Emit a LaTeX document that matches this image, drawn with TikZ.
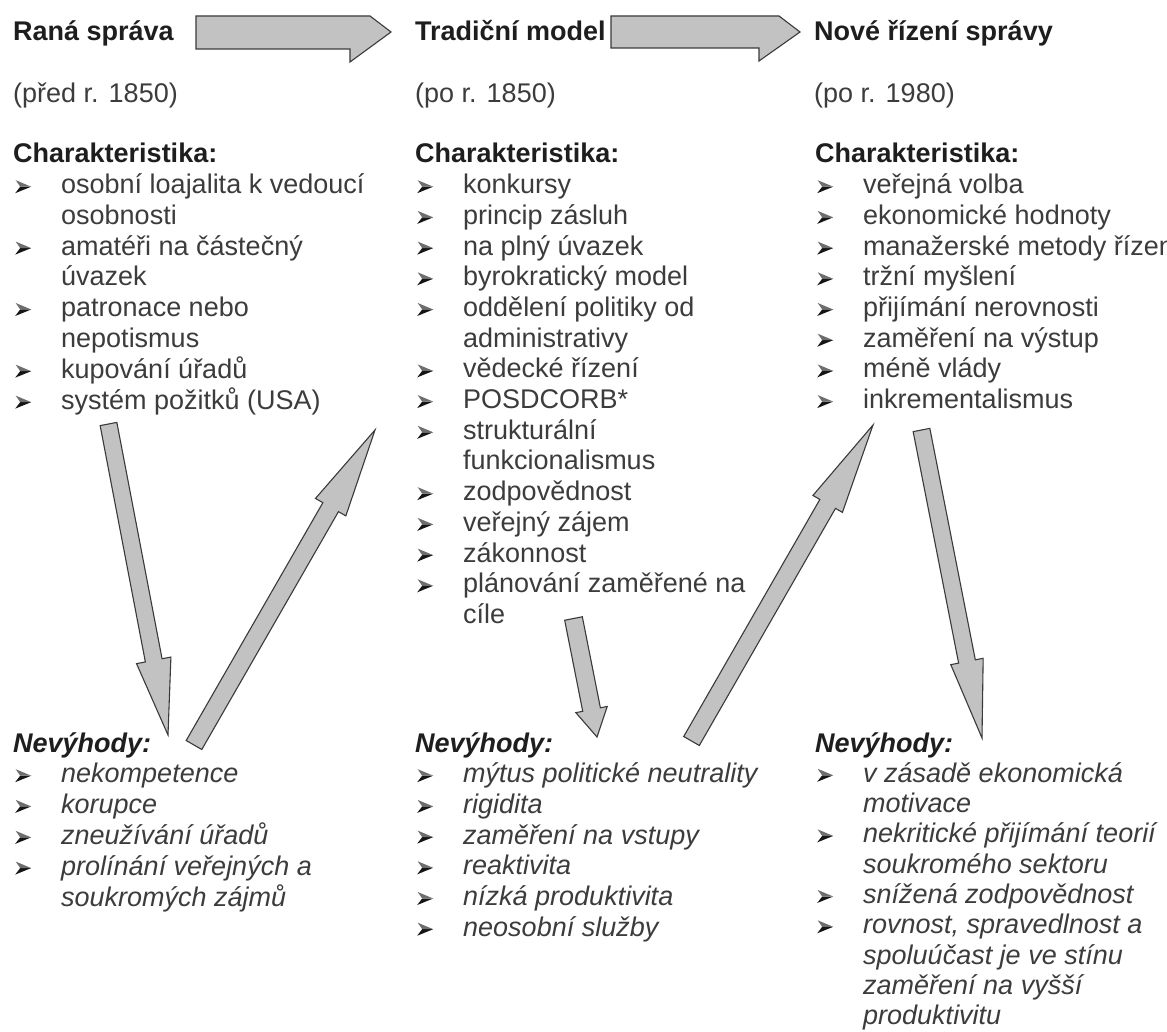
\documentclass[tikz,border=0pt]{standalone}
\usepackage{fontspec}
\setmainfont{Liberation Sans}
\usetikzlibrary{calc}

\definecolor{textgray}{HTML}{3C3C3C}
\definecolor{headgray}{HTML}{1E1E1E}
\definecolor{arrowfill}{HTML}{C2C2C2}
\definecolor{arrowline}{HTML}{3A3A3A}
\definecolor{bulletdark}{HTML}{151515}
\definecolor{bulletlight}{HTML}{6E6E6E}

\newcommand{\listfont}{\fontsize{27}{30.7}\selectfont}
% three-dimensional arrowhead bullet
\newcommand{\bul}{\tikz[baseline=0pt,x=1pt,y=1pt]{%
  \fill[bulletdark] (0,0.5) -- (16,7) -- (5,7) -- cycle;
  \fill[bulletlight] (0.5,13.5) -- (16,7) -- (5,7) -- cycle;}}
\newcommand{\B}{\makebox[48pt][l]{\hspace*{2pt}\bul}&}

% block arrow from #1 (tail) to #2 (tip): shaft half-width #3, head half-width #4, head length #5
\newcommand{\blockarrow}[5]{%
  \draw[arrowbody]
    ($(#1)!#3!90:(#2)$) --
    ($(#2)!#5!(#1)!#3!-90:(#1)$) --
    ($(#2)!#5!(#1)!#4!-90:(#1)$) --
    (#2) --
    ($(#2)!#5!(#1)!#4!90:(#1)$) --
    ($(#2)!#5!(#1)!#3!90:(#1)$) --
    ($(#1)!#3!-90:(#2)$) -- cycle;}

\tikzset{
  block/.style={inner sep=0pt, anchor=base west, font=\listfont, text=textgray},
  title/.style={inner sep=0pt, anchor=base west, font=\listfont\bfseries, text=headgray},
  period/.style={inner sep=0pt, anchor=base west, font=\listfont, text=textgray},
  arrowbody/.style={fill=arrowfill, draw=arrowline, line width=1.1pt, line join=miter},
}

\begin{document}
\begin{tikzpicture}[x=1pt,y=-1pt]
\useasboundingbox (0,0) rectangle (1167,1032);
\fill[white] (0,0) rectangle (1167,1032);

% stage titles
\node[title] (t1) at (13,41) {Raná správa};
\node[title] (t2) at (415,41) {Tradiční model};
\node[title] (t3) at (814,41) {Nové řízení správy};

\node[period] (p1) at (13,103) {(před r. 1850)};
\node[period] (p2) at (415,103) {(po r. 1850)};
\node[period] (p3) at (814,103) {(po r. 1980)};

% characteristics
\node[block] (c1) at (13,163) {\begin{tabular}[t]{@{}l@{}l@{}}
\multicolumn{2}{@{}l@{}}{\color{headgray}\bfseries Charakteristika:}\\
\B osobní loajalita k vedoucí\\
& osobnosti\\
\B amatéři na částečný\\
& úvazek\\
\B patronace nebo\\
& nepotismus\\
\B kupování úřadů\\
\B systém požitků (USA)
\end{tabular}};

\node[block] (c2) at (415,163) {\begin{tabular}[t]{@{}l@{}l@{}}
\multicolumn{2}{@{}l@{}}{\color{headgray}\bfseries Charakteristika:}\\
\B konkursy\\
\B princip zásluh\\
\B na plný úvazek\\
\B byrokratický model\\
\B oddělení politiky od\\
& administrativy\\
\B vědecké řízení\\
\B POSDCORB*\\
\B strukturální\\
& funkcionalismus\\
\B zodpovědnost\\
\B veřejný zájem\\
\B zákonnost\\
\B plánování zaměřené na\\
& cíle
\end{tabular}};

\node[block] (c3) at (815,163) {\begin{tabular}[t]{@{}l@{}l@{}}
\multicolumn{2}{@{}l@{}}{\color{headgray}\bfseries Charakteristika:}\\
\B veřejná volba\\
\B ekonomické hodnoty\\
\B manažerské metody řízení\\
\B tržní myšlení\\
\B přijímání nerovnosti\\
\B zaměření na výstup\\
\B méně vlády\\
\B inkrementalismus
\end{tabular}};

% drawbacks
\node[block] (d1) at (13,752) {\begin{tabular}[t]{@{}l@{}l@{}}
\multicolumn{2}{@{}l@{}}{\color{headgray}\bfseries\itshape Nevýhody:}\\
\B \itshape nekompetence\\
\B \itshape korupce\\
\B \itshape zneužívání úřadů\\
\B \itshape prolínání veřejných a\\
& \itshape soukromých zájmů
\end{tabular}};

\node[block] (d2) at (415,752) {\begin{tabular}[t]{@{}l@{}l@{}}
\multicolumn{2}{@{}l@{}}{\color{headgray}\bfseries\itshape Nevýhody:}\\
\B \itshape mýtus politické neutrality\\
\B \itshape rigidita\\
\B \itshape zaměření na vstupy\\
\B \itshape reaktivita\\
\B \itshape nízká produktivita\\
\B \itshape neosobní služby
\end{tabular}};

\node[block, font=\fontsize{27}{30.3}\selectfont] (d3) at (815,752) {\begin{tabular}[t]{@{}l@{}l@{}}
\multicolumn{2}{@{}l@{}}{\color{headgray}\bfseries\itshape Nevýhody:}\\
\B \itshape v zásadě ekonomická\\
& \itshape motivace\\
\B \itshape nekritické přijímání teorií\\
& \itshape soukromého sektoru\\
\B \itshape snížená zodpovědnost\\
\B \itshape rovnost, spravedlnost a\\
& \itshape spoluúčast je ve stínu\\
& \itshape zaměření na vyšší\\
& \itshape produktivitu
\end{tabular}};

% horizontal arrows between the stage titles (upper edge cut level with the shaft)
\coordinate (h1s) at (196,32);
\coordinate (h1e) at (391,32);
\coordinate (h2s) at (611,32);
\coordinate (h2e) at (800,32);
\draw[arrowbody] ($(h1s)+(0,-16)$) -- ($(h1e)+(-21,-16)$) -- (h1e) --
  ($(h1e)+(-41,30)$) -- ($(h1e)+(-41,17)$) -- ($(h1s)+(0,17)$) -- cycle;
\draw[arrowbody] ($(h2s)+(0,-16)$) -- ($(h2e)+(-21,-16)$) -- (h2e) --
  ($(h2e)+(-41,29)$) -- ($(h2e)+(-41,16)$) -- ($(h2s)+(0,16)$) -- cycle;

% diagonal arrows between characteristics and drawbacks
\coordinate (a1s) at (108.5,424);  \coordinate (a1e) at (168,735);
\coordinate (a2s) at (194,745);    \coordinate (a2e) at (375,430);
\coordinate (a3s) at (573.5,618.5);\coordinate (a3e) at (597,737);
\coordinate (a4s) at (691.5,741);  \coordinate (a4e) at (873,425);
\coordinate (a5s) at (921.5,430);  \coordinate (a5e) at (982,738);

\blockarrow{a1s}{a1e}{8.5pt}{17.5pt}{76pt}
\blockarrow{a2s}{a2e}{9pt}{17.5pt}{89pt}
\blockarrow{a3s}{a3e}{9pt}{16pt}{28pt}
\blockarrow{a4s}{a4e}{9pt}{17pt}{91pt}
\blockarrow{a5s}{a5e}{8.5pt}{16.5pt}{78pt}
\end{tikzpicture}
\end{document}
